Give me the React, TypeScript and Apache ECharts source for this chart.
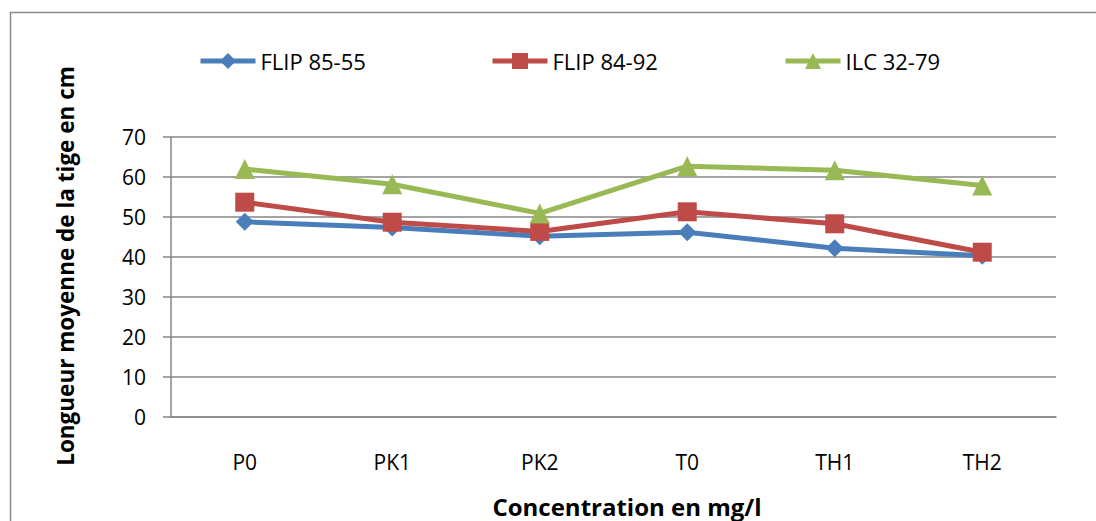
import React, { useEffect, useRef } from "react";
import * as echarts from "echarts";

const categories = ["P0", "PK1", "PK2", "T0", "TH1", "TH2"];
const flip8555 = [48.8, 47.4, 45.2, 46.2, 42.2, 40.3];
const flip8492 = [53.7, 48.7, 46.4, 51.3, 48.3, 41.2];
const ilc3279 = [62.0, 58.2, 50.9, 62.7, 61.7, 57.9];
const seriesNames = ["FLIP 85-55", "FLIP 84-92", "ILC 32-79"];
const yTicks = { min: 0, max: 70, interval: 10 };
const yTitle = "Longueur moyenne de la tige en cm";
const xTitle = "Concentration en mg/l";

const FONT = "Open Sans";
const GRID = "#868686";

export default function App() {
  const ref = useRef<HTMLDivElement>(null);
  useEffect(() => {
    if (!ref.current) return;
    const chart = echarts.init(ref.current, null, { renderer: "svg" });
    const mk = (name: string, data: number[], color: string, symbol: string, size: number) => ({
      name,
      type: "line",
      data,
      symbol,
      symbolSize: size,
      itemStyle: { color },
      lineStyle: { color, width: 5 },
      z: 3,
    });
    const legendBase = {
      top: 50,
      padding: 0,
      itemWidth: 55,
      itemHeight: 20,
      itemGap: 0,
      lineStyle: { width: 5 },
      textStyle: { fontFamily: FONT, fontSize: 22, color: "#000", padding: [0, 0, 0, 0] },
    };
    chart.setOption({
      animation: false,
      backgroundColor: "#fff",
      legend: [
        { ...legendBase, left: 198, data: [seriesNames[0]] },
        { ...legendBase, left: 490, data: [seriesNames[1]] },
        { ...legendBase, left: 783, data: [seriesNames[2]] },
      ],
      grid: { left: 171, top: 137, right: 40, bottom: 104 },
      xAxis: {
        type: "category",
        data: categories,
        boundaryGap: true,
        axisLine: { lineStyle: { color: GRID, width: 1.5 } },
        axisTick: { show: false },
        axisLabel: { fontFamily: FONT, fontSize: 21, color: "#000", margin: 34 },
      },
      yAxis: {
        type: "value",
        min: yTicks.min,
        max: yTicks.max,
        interval: yTicks.interval,
        axisLine: { show: true, lineStyle: { color: GRID, width: 1.5 } },
        axisTick: { show: true, length: 8, lineStyle: { color: GRID, width: 1.5 } },
        splitLine: { lineStyle: { color: GRID, width: 1.5 } },
        axisLabel: { fontFamily: FONT, fontSize: 21, color: "#000", margin: 25 },
      },
      graphic: [
        {
          type: "rect",
          shape: { x: 10.5, y: 12.5, width: 1200, height: 700 },
          style: { fill: "none", stroke: "#8a8a8a", lineWidth: 1.5 },
          silent: true,
        },
        {
          type: "text",
          x: 65,
          y: 266,
          rotation: Math.PI / 2,
          style: {
            text: yTitle,
            fontFamily: FONT,
            fontSize: 22.5,
            fontWeight: "bold",
            fill: "#000",
            align: "center",
            verticalAlign: "middle",
          },
        },
        {
          type: "text",
          x: 627,
          y: 506,
          style: {
            text: xTitle,
            fontFamily: FONT,
            fontSize: 24,
            fontWeight: "bold",
            fill: "#000",
            align: "center",
            verticalAlign: "middle",
          },
        },
      ],
      series: [
        mk(seriesNames[0], flip8555, "#4A7EBB", "diamond", 18),
        mk(seriesNames[1], flip8492, "#BE4B48", "rect", 19),
        mk(seriesNames[2], ilc3279, "#98B954", "triangle", 20),
      ],
    });
    return () => chart.dispose();
  }, []);
  return (
    <div
      ref={ref}
      style={{ position: "absolute", left: 0, top: 0, width: 1096, height: 521 }}
    />
  );
}
